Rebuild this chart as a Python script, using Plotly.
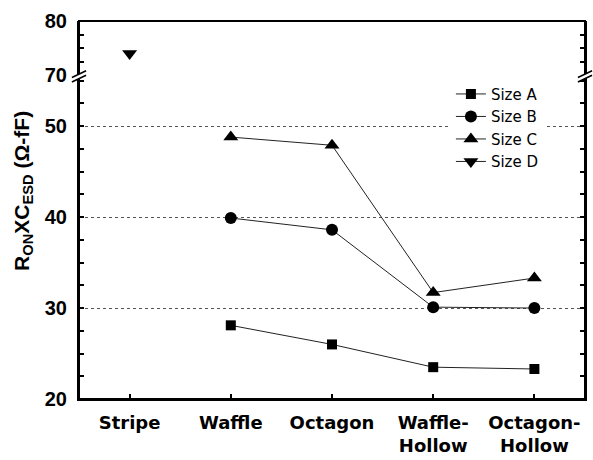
import plotly.graph_objects as go

categories = ["Stripe", "Waffle", "Octagon", "Waffle-Hollow", "Octagon-Hollow"]
tick_labels = ["Stripe", "Waffle", "Octagon", "Waffle-<br>Hollow", "Octagon-<br>Hollow"]
size_a = [None, 28.1, 26.0, 23.5, 23.3]
size_b = [None, 39.9, 38.6, 30.1, 30.0]
size_c = [None, 48.8, 47.9, 31.7, 33.3]
size_d = [74.0, None, None, None, None]

FONT = "Liberation Sans, Arial, sans-serif"
WIDE = "DejaVu Sans, sans-serif"
fig = go.Figure()
line = dict(color="#222222", width=1)
fig.add_trace(go.Scatter(x=categories, y=size_a, name="Size A", mode="lines+markers",
                         line=line, marker=dict(symbol="square", size=10, color="black")))
fig.add_trace(go.Scatter(x=categories, y=size_b, name="Size B", mode="lines+markers",
                         line=line, marker=dict(symbol="circle", size=12, color="black")))
fig.add_trace(go.Scatter(x=categories, y=size_c, name="Size C", mode="lines+markers",
                         line=line, marker=dict(symbol="triangle-up", size=13, color="black")))
fig.add_trace(go.Scatter(x=categories, y=size_d, name="Size D", mode="lines+markers",
                         line=line, marker=dict(symbol="triangle-down", size=13, color="black"),
                         yaxis="y2"))

brk = 0.8565
fig.update_layout(
    width=593, height=460,
    margin=dict(l=79, r=8, t=21, b=61),
    plot_bgcolor="white", paper_bgcolor="white",
    font=dict(family=FONT, color="black"),
    showlegend=True,
    legend=dict(x=0.735, y=0.85, xanchor="left", yanchor="top",
                bgcolor="white", font=dict(size=15, family=WIDE),
                tracegroupgap=0),
    xaxis=dict(type="category", range=[-0.5, 4.5], tickvals=categories, ticktext=tick_labels,
               showline=True, linecolor="black", linewidth=2, mirror=False, automargin=False,
               ticks="inside", ticklen=5, tickwidth=1.5, tickcolor="black",
               tickfont=dict(size=18, weight="bold", family=WIDE), ticklabelstandoff=6,
               showgrid=False, zeroline=False),
    yaxis=dict(domain=[0, brk], range=[20, 55.6], tickvals=[20, 30, 40, 50], automargin=False,
               showline=True, linecolor="black", linewidth=2, mirror="ticks",
               ticks="inside", ticklen=5, tickwidth=1.5, tickcolor="black",
               minor=dict(dtick=2.5, tick0=20, ticks="inside", ticklen=5, tickcolor="black", showgrid=False),
               tickfont=dict(size=20, weight="bold", family=FONT), ticklabelstandoff=6,
               showgrid=True, gridcolor="#555555", griddash="dot", gridwidth=1, zeroline=False),
    yaxis2=dict(domain=[brk, 1], range=[70, 80], tickvals=[70, 80], automargin=False,
                showline=True, linecolor="black", linewidth=2, mirror="ticks",
                ticks="inside", ticklen=5, tickwidth=1.5, tickcolor="black",
                minor=dict(dtick=2.5, tick0=70, ticks="inside", ticklen=5, tickcolor="black"),
                tickfont=dict(size=20, weight="bold", family=FONT), ticklabelstandoff=6,
                showgrid=False, zeroline=False, anchor="x"),
)

# y-axis title
fig.add_annotation(text="R<sub>ON</sub>XC<sub>ESD</sub> (Ω-fF)", textangle=-90,
                   xref="paper", yref="paper", x=-0.111, y=0.55, xanchor="center", yanchor="middle",
                   showarrow=False, font=dict(size=21, weight="bold", family=FONT))

# frame
fig.add_shape(type="rect", xref="paper", yref="paper", x0=0, y0=0, x1=1, y1=1,
              line=dict(color="black", width=2))

# axis break marks
for xc in [0.0, 1.0]:
    dx = 0.014
    fig.add_shape(type="line", xref="paper", yref="paper",
                  x0=xc - dx, y0=brk - 0.012, x1=xc + dx, y1=brk + 0.006,
                  line=dict(color="white", width=4))
    for off in [-0.006, 0.006]:
        fig.add_shape(type="line", xref="paper", yref="paper",
                      x0=xc - dx, y0=brk - 0.012 + off, x1=xc + dx, y1=brk + 0.006 + off,
                      line=dict(color="black", width=1.5))

fig.write_html("out.html")
